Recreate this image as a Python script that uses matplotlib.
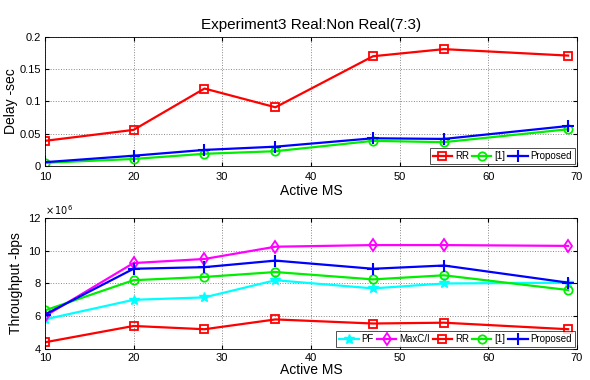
import numpy as np
import matplotlib
matplotlib.use("Agg")
import matplotlib.pyplot as plt

plt.rcParams['font.family'] = ['Liberation Sans', 'DejaVu Sans']

# === donnees ===
active_ms = [10, 20, 28, 36, 47, 55, 69]

delay_rr = [0.039, 0.056, 0.120, 0.091, 0.170, 0.181, 0.171]
delay_ref1 = [0.005, 0.011, 0.019, 0.023, 0.039, 0.037, 0.057]
delay_proposed = [0.006, 0.016, 0.025, 0.030, 0.043, 0.042, 0.062]

thr_pf = [5.8, 7.0, 7.15, 8.2, 7.7, 8.0, 8.05]
thr_maxci = [6.0, 9.25, 9.5, 10.25, 10.35, 10.35, 10.3]
thr_rr = [4.4, 5.4, 5.2, 5.8, 5.55, 5.6, 5.2]
thr_ref1 = [6.35, 8.2, 8.4, 8.7, 8.25, 8.5, 7.6]
thr_proposed = [6.1, 8.9, 9.0, 9.4, 8.9, 9.1, 8.05]

fig = plt.figure(figsize=(5.9, 3.8), dpi=100)
ax1 = fig.add_axes([0.076, 0.563, 0.902, 0.340])
ax2 = fig.add_axes([0.076, 0.082, 0.902, 0.344])

lw = 1.6
ms = 6

# === delai ===
ax1.plot(active_ms, delay_rr, color='#ff0000', marker='s', mfc='none', mec='#ff0000', lw=lw, ms=ms, mew=1.3, label='RR')
ax1.plot(active_ms, delay_ref1, color='#00ee00', marker='o', mfc='none', mec='#00ee00', lw=lw, ms=ms, mew=1.3, label='[1]')
ax1.plot(active_ms, delay_proposed, color='#0000ff', marker='+', lw=lw, ms=8, mew=1.5, label='Proposed')
ax1.set_xlim(10, 70)
ax1.set_ylim(0, 0.2)
ax1.set_yticks([0, 0.05, 0.1, 0.15, 0.2])
ax1.set_yticklabels(['0', '0.05', '0.1', '0.15', '0.2'])
ax1.set_ylabel('Delay -sec', fontsize=10, labelpad=1)
ax1.set_xlabel('Active MS', fontsize=10, labelpad=2)
ax1.set_title('Experiment3 Real:Non Real(7:3)', fontsize=11, pad=6)
ax1.legend(loc='lower right', ncol=3, fontsize=7, frameon=True, fancybox=False,
           edgecolor='black', handlelength=2, handletextpad=0.3, columnspacing=0.3,
           borderpad=0.3, borderaxespad=0.2).get_frame().set_linewidth(0.6)

# === debit ===
ax2.plot(active_ms, thr_pf, color='#00ffff', marker='*', lw=lw, ms=7, label='PF')
ax2.plot(active_ms, thr_maxci, color='#ff00ff', marker='d', mfc='none', mec='#ff00ff', lw=lw, ms=ms, mew=1.3, label='MaxC/I')
ax2.plot(active_ms, thr_rr, color='#ff0000', marker='s', mfc='none', mec='#ff0000', lw=lw, ms=ms, mew=1.3, label='RR')
ax2.plot(active_ms, thr_ref1, color='#00ee00', marker='o', mfc='none', mec='#00ee00', lw=lw, ms=ms, mew=1.3, label='[1]')
ax2.plot(active_ms, thr_proposed, color='#0000ff', marker='+', lw=lw, ms=8, mew=1.5, label='Proposed')
ax2.set_xlim(10, 70)
ax2.set_ylim(4, 12)
ax2.set_yticks([4, 6, 8, 10, 12])
ax2.set_ylabel('Throughput -bps', fontsize=10, labelpad=4)
ax2.text(0.0, 1.01, r'$\times\,10^{6}$', transform=ax2.transAxes, fontsize=7, va='bottom', ha='left')
ax2.legend(loc='lower right', ncol=5, fontsize=7, frameon=True, fancybox=False,
           edgecolor='black', handlelength=2, handletextpad=0.3, columnspacing=0.3,
           borderpad=0.3, borderaxespad=0.2).get_frame().set_linewidth(0.6)

for ax in (ax1, ax2):
    ax.set_xticks([10, 20, 30, 40, 50, 60, 70])
    ax.grid(True, linestyle=':', color='#888888', linewidth=0.7)
    ax.tick_params(axis='x', labelsize=8, direction='in', length=3, top=True, pad=4)
    ax.tick_params(axis='y', labelsize=8, direction='in', length=3, right=True, pad=3)
    for s in ax.spines.values():
        s.set_linewidth(0.6)
ax2.tick_params(axis='x', pad=3)
ax2.set_xlabel('Active MS', fontsize=10, labelpad=0)

fig.savefig('out.png', dpi=100)
